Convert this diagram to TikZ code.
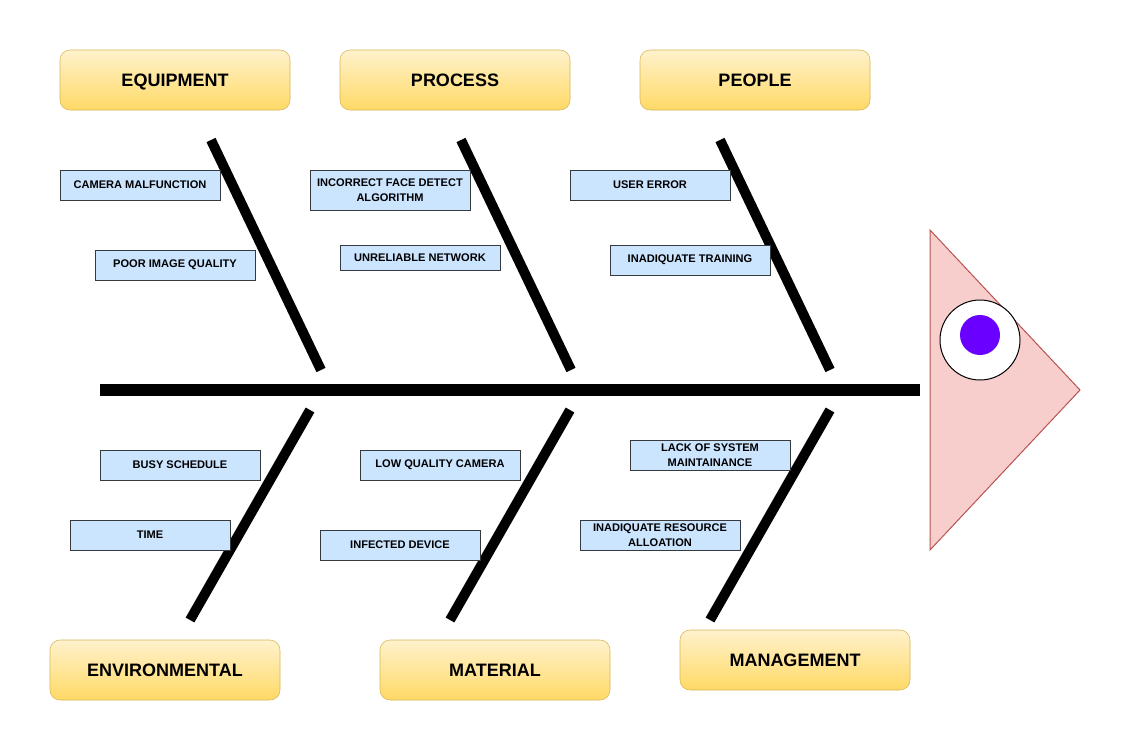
\documentclass[tikz,border=0pt]{standalone}
\usepackage{fontspec}
\setmainfont{Liberation Sans}
\usepackage{xcolor}
\usepackage{tikz}

\definecolor{hdrtop}{RGB}{255,242,204}
\definecolor{hdrbot}{RGB}{255,217,102}
\definecolor{hdrline}{RGB}{214,182,86}
\definecolor{causefill}{RGB}{204,229,255}
\definecolor{causeline}{RGB}{54,57,61}
\definecolor{headfill}{RGB}{248,206,204}
\definecolor{headline}{RGB}{184,84,80}
\definecolor{eyepurple}{RGB}{106,0,255}

\begin{document}
\begin{tikzpicture}[x=0.75pt,y=0.75pt,yscale=-1,xscale=1,
  category/.style={draw=hdrline, rounded corners=7.5pt, top color=hdrtop, bottom color=hdrbot, minimum width=172.5pt, minimum height=45pt, inner sep=0.75pt, text depth=0pt, font=\fontsize{13.5}{15}\selectfont\bfseries},
  cause/.style={draw=causeline, fill=causefill, minimum width=120pt, minimum height=22.5pt, inner sep=0.75pt, align=center, font=\fontsize{8.3}{11}\selectfont\bfseries},
  bone/.style={line width=7.5pt}]
\useasboundingbox (0,0) rectangle (1131,751);

%Straight Lines [id:spine]
\draw [line width=9pt]    (100,390) -- (920,390) ;
%Straight Lines [id:bones top]
\draw [bone]    (211,140) -- (321,370) ;
\draw [bone]    (461,140) -- (571,370) ;
\draw [bone]    (720,140) -- (830,370) ;
%Straight Lines [id:bones bottom]
\draw [bone]    (310,410) -- (190,620) ;
\draw [bone]    (570,410) -- (450,620) ;
\draw [bone]    (830,410) -- (710,620) ;

%Shape: Triangle [id:head]
\draw [draw=headline, fill=headfill, line width=0.75pt]   (930,230) -- (1080,390) -- (930,550) -- cycle ;
%Shape: Circle [id:eye]
\draw [fill=white, line width=0.75pt]   (980,340) circle [radius=30pt] ;
\fill [eyepurple]   (980,335) circle [radius=15pt] ;

% Category Nodes
\node [category] (equipment) at (175,80) {EQUIPMENT};
\node [category] (process) at (455,80) {PROCESS};
\node [category] (people) at (755,80) {PEOPLE};
\node [category] (environmental) at (165,670) {ENVIRONMENTAL};
\node [category] (material) at (495,670) {MATERIAL};
\node [category] (management) at (795,660) {MANAGEMENT};

% Cause Nodes
\node [cause] (malfunction) at (140,185) {CAMERA MALFUNCTION};
\node [cause] (imagequality) at (175,265) {POOR IMAGE QUALITY};
\node [cause, minimum height=30pt] (facedetect) at (390,190) {INCORRECT FACE DETECT\\ALGORITHM};
\node [cause, minimum height=18.75pt] (network) at (420,257.5) {UNRELIABLE NETWORK};
\node [cause] (usererror) at (650,185) {USER ERROR};
\node [cause] (training) at (690,260) {INADIQUATE TRAINING};
\node [cause] (schedule) at (180,465) {BUSY SCHEDULE};
\node [cause] (time) at (150,535) {TIME};
\node [cause] (lowcamera) at (440,465) {LOW QUALITY CAMERA};
\node [cause] (infected) at (400,545) {INFECTED DEVICE};
\node [cause] (maintainance) at (710,455) {LACK OF SYSTEM\\MAINTAINANCE};
\node [cause] (resource) at (660,535) {INADIQUATE RESOURCE\\ALLOATION};

\end{tikzpicture}
\end{document}
